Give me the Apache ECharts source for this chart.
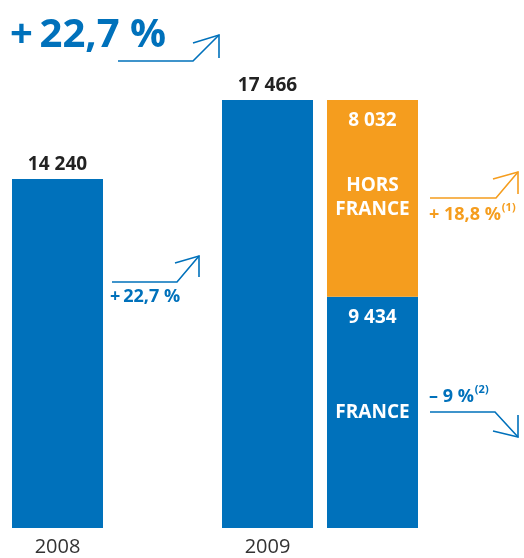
<!DOCTYPE html>
<html><head><meta charset="utf-8">
<script src="https://cdn.jsdelivr.net/npm/echarts@6/dist/echarts.min.js"></script>
<style>html,body{margin:0;padding:0;background:#fff}#c{width:524px;height:558px}</style>
</head><body><div id="c"></div>
<script>
const categories = ['2008', '', '2009', ''];
const totals = [14240, '-', 17466, '-'];
const france = ['-', '-', '-', 9434];
const horsFrance = ['-', '-', '-', 8032];
const labelsTotal = ['14 240', '', '17 466', ''];
const labelFrance = '9 434';
const labelHors = '8 032';
const growthTotal = '+\u200922,7 %';
const growthHors = '+ 18,8 %';
const growthFrance = '– 9 %';

const BLUE = '#0071BB', ORANGE = '#F59D1E';
const FONT = '"Open Sans", "Noto Sans", sans-serif';

function arrow(points, head, color) {
  return [
    {type:'polyline', shape:{points:points}, style:{stroke:color, lineWidth:1.6, fill:null}},
    {type:'polyline', shape:{points:head}, style:{stroke:color, lineWidth:1.6, fill:null}}
  ];
}

const chart = echarts.init(document.getElementById('c'));
chart.setOption({
  animation:false,
  grid:{left:5, width:420, top:38, bottom:30},
  xAxis:{type:'category', data:categories, axisLine:{show:false}, axisTick:{show:false},
    axisLabel:{color:'#333', fontSize:20, fontFamily:FONT, margin:9}},
  yAxis:{type:'value', min:0, max:20000, show:false, splitLine:{show:false}},
  series:[
    {type:'bar', stack:'a', data:totals, barWidth:91, itemStyle:{color:BLUE},
     label:{show:true, position:'top', distance:5, color:'#222', fontWeight:'bold', fontSize:19, fontFamily:FONT,
       formatter:p=>labelsTotal[p.dataIndex]}},
    {type:'bar', stack:'a', data:france, barWidth:91, itemStyle:{color:BLUE},
     label:{show:true, position:'insideTop', distance:6, color:'#fff', fontFamily:FONT,
       formatter:'{v|'+labelFrance+'}\n{s|}\n{n|FRANCE}',
       rich:{v:{fontSize:19, fontWeight:'bold', lineHeight:30, color:'#fff', fontFamily:FONT},
             s:{lineHeight:68, height:68},
             n:{fontSize:19, fontWeight:'bold', lineHeight:24, color:'#fff', fontFamily:FONT}}}},
    {type:'bar', stack:'a', data:horsFrance, barWidth:91, itemStyle:{color:ORANGE},
     label:{show:true, position:'insideTop', distance:6, color:'#fff', fontFamily:FONT,
       formatter:'{v|'+labelHors+'}\n{s|}\n{n|HORS}\n{n|FRANCE}',
       rich:{v:{fontSize:19, fontWeight:'bold', lineHeight:30, color:'#fff', fontFamily:FONT},
             s:{lineHeight:38, height:38},
             n:{fontSize:19, fontWeight:'bold', lineHeight:24, color:'#fff', fontFamily:FONT}}}}
  ],
  graphic:[
    {type:'text', left:10, top:16, style:{text:growthTotal, fill:BLUE, font:'bold 40px '+FONT}},
    ...arrow([[118,61],[193,61],[219,35]], [[193,43],[219,35],[219,58]], BLUE),
    ...arrow([[112,282],[177,282],[199,256]], [[175,263],[199,256],[199,277]], BLUE),
    {type:'text', left:110, top:288, style:{text:growthTotal, fill:BLUE, font:'bold 18px '+FONT}},
    ...arrow([[430,198],[496,198],[518,172]], [[493,179],[518,172],[518,194]], ORANGE),
    {type:'text', left:429, top:202, style:{text:'{a|'+growthHors+'}{s|(1)}', fill:ORANGE,
      rich:{a:{fill:ORANGE, font:'bold 18px '+FONT, lineHeight:22, verticalAlign:'bottom'},
            s:{fill:ORANGE, font:'bold 11px '+FONT, lineHeight:22, verticalAlign:'top', padding:[0,0,8,1]}}}},
    {type:'text', left:429, top:384, style:{text:'{a|'+growthFrance+'}{s|(2)}', fill:BLUE,
      rich:{a:{fill:BLUE, font:'bold 18px '+FONT, lineHeight:22, verticalAlign:'bottom'},
            s:{fill:BLUE, font:'bold 11px '+FONT, lineHeight:22, verticalAlign:'top', padding:[0,0,8,1]}}}},
    ...arrow([[430,412],[495,412],[518,437]], [[493,431],[518,437],[518,415]], BLUE)
  ]
});
</script></body></html>
